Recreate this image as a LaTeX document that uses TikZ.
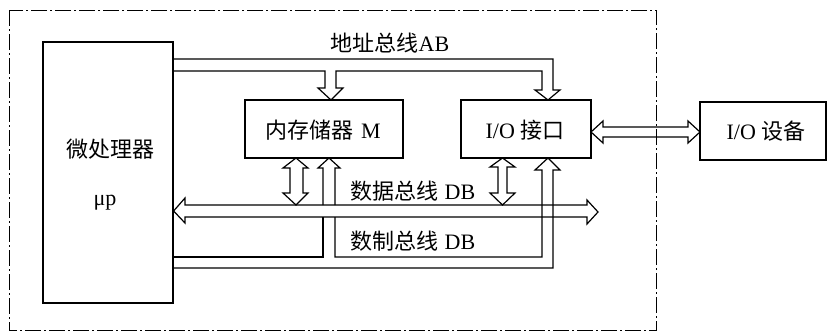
\documentclass[tikz,border=0pt]{standalone}
\usepackage{fontspec}
\setmainfont{Liberation Serif}
\newfontfamily\cjk{Noto Sans CJK SC}
\begin{document}
\begin{tikzpicture}[x=1pt,y=-1pt,
  ln/.style={line width=1.2pt,line join=miter},
  boxx/.style={draw,line width=1.2pt,inner sep=0pt},
  lbl/.style={inner sep=0pt,font=\fontsize{22}{25}\selectfont},
  frame/.style={line width=1pt,dash pattern=on 16pt off 3pt on 2pt off 3pt}]
\useasboundingbox (0,0) rectangle (828,332);
\fill[white] (0,0) rectangle (828,332);
% outer frame
\draw[frame] (9,10) rectangle (656,330);
% boxes
\node[boxx,minimum width=130pt,minimum height=261pt] (cpu) at (108,172.5) {};
\node[boxx,minimum width=158pt,minimum height=58pt] (mem) at (324,129) {};
\node[boxx,minimum width=130pt,minimum height=58pt] (io) at (526,129) {};
\node[boxx,minimum width=126pt,minimum height=58pt] (dev) at (763,131) {};
% texts
\node[lbl] (t1) at (110,149) {{\cjk 微处理器}};
\node[lbl] (t2) at (105,203) {μp};
\node[lbl] (t3) at (323,130) {{\cjk 内存储器}\hspace{8pt}M};
\node[lbl] (t4) at (525,130) {I/O {\cjk 接口}};
\node[lbl] (t5) at (766,131) {I/O {\cjk 设备}};
\node[lbl] (t6) at (390,43) {{\cjk 地址总线}AB};
\node[lbl] (t7) at (413,191) {{\cjk 数据总线}\hspace{6pt}DB};
\node[lbl] (t8) at (413,241) {{\cjk 数制总线}\hspace{6pt}DB};
% address bus
\draw[ln] (cpu.east |- 0,59) -- (553,59) -- (553,90) -- (560,90) -- (548,100) -- (535,90) -- (542,90)
  -- (542,71) -- (336,71) -- (336,88) -- (343,88) -- (331,100) -- (318,88) -- (325,88) -- (325,71) -- (cpu.east |- 0,71);
% data bus
\draw[ln] (cpu.east |- 0,211) -- (185,198) -- (185,205) -- (587,205) -- (587,200) -- (598,212) -- (587,224)
  -- (587,217) -- (185,217) -- (185,223) -- cycle;
% memory <-> data bus
\draw[ln] (296,158) -- (308,168) -- (303,168) -- (303,193) -- (308,193) -- (296,205) -- (283,193) -- (290,193)
  -- (290,168) -- (283,168) -- cycle;
% io <-> data bus
\draw[ln] (502.5,158) -- (515,167) -- (507,167) -- (507,193) -- (515,193) -- (502.5,205) -- (490,193) -- (498,193)
  -- (498,167) -- (490,167) -- cycle;
% control bus
\draw[ln] (cpu.east |- 0,257) -- (323,257) -- (323,217);
\draw[ln] (323,205) -- (323,168) -- (318,168) -- (329,158) -- (340,168) -- (335,168) -- (335,205);
\draw[ln] (335,217) -- (335,257) -- (542,257) -- (542,170) -- (535,170) -- (548,158) -- (560,170) -- (553,170)
  -- (553,268) -- (cpu.east |- 0,268);
% io <-> device
\draw[ln] (591,132) -- (603,121) -- (603,127) -- (688,127) -- (688,121) -- (700,132) -- (688,143) -- (688,137)
  -- (603,137) -- (603,143) -- cycle;
\end{tikzpicture}
\end{document}
